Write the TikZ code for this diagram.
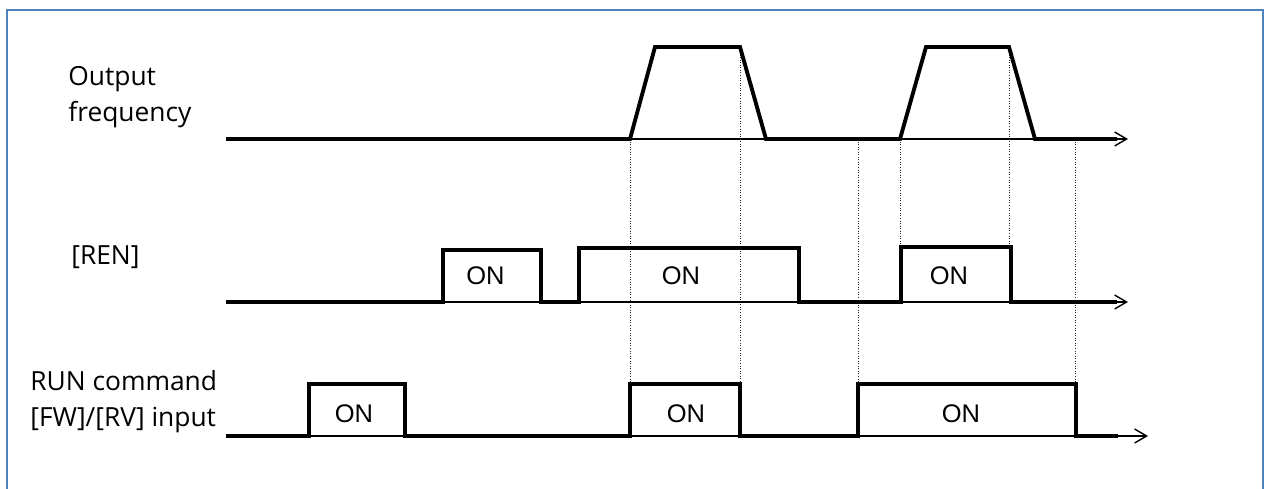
\documentclass[tikz,border=0pt]{standalone}
\usepackage{fontspec}
\setmainfont{Open Sans}
\newfontfamily\onfont{Liberation Sans}
\usetikzlibrary{arrows.meta}
\definecolor{framebl}{RGB}{79,129,189}
\tikzset{
  sig/.style={line width=2.2pt,line join=miter},
  taxis/.style={line width=0.8pt,-{Straight Barb[length=2.4mm,width=2.8mm]}},
  guide/.style={densely dotted,line width=0.45pt,black!85},
  lbl/.style={font=\fontsize{15}{20.4}\selectfont,align=left,inner sep=0pt,anchor=west},
  onlbl/.style={font=\onfont\fontsize{14.5}{16}\selectfont,inner sep=0pt}
}
\begin{document}
\begin{tikzpicture}[x=0.2mm,y=-0.2mm]
  \path[use as bounding box] (0,0) rectangle (1266,488);
  \begin{scope}
    \clip (0,0) rectangle (1266,488);
    \draw[framebl,line width=1.2pt] (7,10) rectangle (1263,520);
  \end{scope}
  \node[lbl] (freq) at (68,97.5) {Output\\frequency};
  \node[lbl] (ren) at (71,257.5) {[REN]};
  \node[lbl] (run) at (30,402) {RUN command\\{[FW]/[RV]} input};
  \draw[guide] (630,139) -- (630,384);
  \draw[guide] (740,47) -- (740,384);
  \draw[guide] (858,139) -- (858,384);
  \draw[guide] (900,139) -- (900,247);
  \draw[guide] (1009,47) -- (1009,247);
  \draw[guide] (1075,139) -- (1075,384);
  \draw[taxis] (226,139) -- (1128,139);
  \draw[taxis] (226,302) -- (1128,302);
  \draw[taxis] (226,436) -- (1148,436);
  \draw[sig] (226,139) -- (630,139) -- (655,47) -- (740,47) -- (766,139) -- (900,139)
    -- (926,47) -- (1009,47) -- (1035,139) -- (1117,139);
  \draw[sig] (226,302) -- (443,302) |- (541,250) -- (541,302) -- (579,302) |- (799,248)
    -- (799,302) -- (901,302) |- (1011,247) -- (1011,302) -- (1117,302);
  \draw[sig] (226,436) -- (309,436) |- (405,384) -- (405,436) -- (630,436) |- (740,384)
    -- (740,436) -- (858,436) |- (1076,384) -- (1076,436) -- (1118,436);
  \node[onlbl] (ren1) at (485.5,276) {ON};
  \node[onlbl] (ren2) at (681,276) {ON};
  \node[onlbl] (ren3) at (949,276) {ON};
  \node[onlbl] (run1) at (354,414) {ON};
  \node[onlbl] (run2) at (686,414) {ON};
  \node[onlbl] (run3) at (961,414) {ON};
\end{tikzpicture}
\end{document}
